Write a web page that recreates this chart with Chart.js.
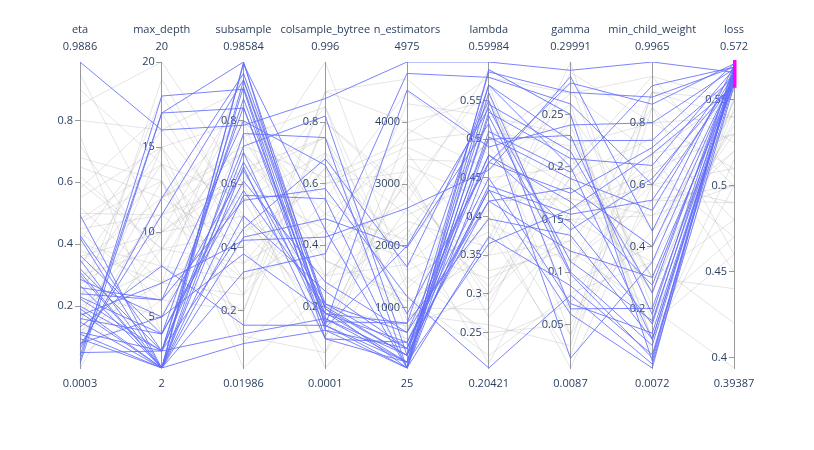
<!DOCTYPE html>
<html>
<head>
<title>Parallel coordinates - xgboost search</title>
<script src="https://cdn.jsdelivr.net/npm/chart.js"></script>
<style>
  body { margin: 0; background: #fff; }
  #chartContainer { width: 814px; height: 450px; }
</style>
</head>
<body>
<div id="chartContainer"><canvas id="myChart"></canvas></div>
<script>
// dimensions (axes), left to right
var dimNames = ['eta', 'max_depth', 'subsample', 'colsample_bytree', 'n_estimators', 'lambda', 'gamma', 'min_child_weight', 'loss'];
var rangeMin = [0.0003, 2, 0.01986, 0.0001, 25, 0.20421, 0.0087, 0.0072, 0.39387];
var rangeMax = [0.9886, 20, 0.98584, 0.996, 4975, 0.59984, 0.29991, 0.9965, 0.572];
var minLabels = ['0.0003', '2', '0.01986', '0.0001', '25', '0.20421', '0.0087', '0.0072', '0.39387'];
var maxLabels = ['0.9886', '20', '0.98584', '0.996', '4975', '0.59984', '0.29991', '0.9965', '0.572'];
var tickValues = [
    [0.2, 0.4, 0.6, 0.8],
    [5, 10, 15, 20],
    [0.2, 0.4, 0.6, 0.8],
    [0.2, 0.4, 0.6, 0.8],
    [1000, 2000, 3000, 4000],
    [0.25, 0.3, 0.35, 0.4, 0.45, 0.5, 0.55],
    [0.05, 0.1, 0.15, 0.2, 0.25],
    [0.2, 0.4, 0.6, 0.8],
    [0.4, 0.45, 0.5, 0.55]
];
// selected range on the loss axis (magenta bar)
var lossConstraint = [0.557, 0.572];

// one value per trial for each dimension
var eta = [0.9886,0.495,0.429,0.42,0.364,0.321,0.30,0.287,0.267,0.24,0.224,0.192,0.17,0.149,0.133,0.116,0.095,0.073,0.063,0.041,0.025,0.014,0.31,0.2,0.16,0.11,0.08,0.26,0.35,0.05,0.18,0.23,
    0.0003,0.9,0.85,0.72,0.65,0.6,0.55,0.5,0.47,0.44,0.41,0.38,0.36,0.34,0.3,0.28,0.25,0.22,0.2,0.18,0.15,0.12,0.1,0.08,0.06,0.04,0.95,0.8,0.75,0.68,0.62,0.58,0.52,0.48,0.45,0.4,0.33,0.27,0.14,0.09];
var maxDepth = [16,2,3,2,4,3,2,5,2,6,3,2,7,2,8,3,2,11,12,17,18,17,2,3,4,2,5,6,2,3,2,4,
    10,14,20,8,12,9,15,11,13,6,16,7,10,12,9,14,5,18,8,11,13,7,15,9,12,6,10,16,4,13,9,17,7,14,11,8,15,10,19,12];
var subsample = [0.786,0.928,0.907,0.985,0.844,0.67,0.655,0.644,0.565,0.549,0.46,0.433,0.423,0.323,0.155,0.128,0.097,0.93,0.95,0.98584,0.9,0.84,0.76,0.72,0.61,0.5,0.38,0.8,0.98,0.87,0.7,0.58,
    0.5,0.3,0.6,0.2,0.8,0.45,0.35,0.7,0.15,0.55,0.9,0.25,0.65,0.4,0.85,0.1,0.75,0.5,0.3,0.6,0.01986,0.55,0.8,0.35,0.7,0.2,0.9,0.45,0.6,0.25,0.75,0.4,0.95,0.55,0.3,0.8,0.12,0.62,0.48,0.72];
var colsample = [0.877,0.161,0.139,0.193,0.123,0.209,0.095,0.177,0.551,0.584,0.681,0.486,0.426,0.372,0.139,0.161,0.123,0.193,0.209,0.139,0.095,0.177,0.75,0.82,0.28,0.25,0.18,0.66,0.45,0.151,0.132,0.2,
    0.3,0.7,0.0001,0.9,0.5,0.2,0.65,0.4,0.8,0.1,0.35,0.55,0.75,0.05,0.6,0.3,0.85,0.15,0.45,0.996,0.25,0.7,0.1,0.5,0.35,0.8,0.2,0.6,0.45,0.9,0.3,0.65,0.15,0.85,0.4,0.55,0.05,0.75,0.25,0.62];
var nEstimators = [4975,230,120,25,340,600,440,750,25,1180,1660,1970,2610,4790,4520,120,25,230,340,25,120,440,25,230,600,340,120,900,25,750,2000,230,
    3000,2500,1500,4000,3500,500,2000,1000,2800,3800,1200,4500,800,2200,3200,1700,600,2600,3900,1400,4300,900,3300,2100,1100,2900,700,3600,1800,4700,2400,400,3100,1300,2700,1900,3400,1600,2300,3700];
var lambda = [0.59984,0.587,0.57,0.535,0.503,0.479,0.434,0.397,0.374,0.20421,0.55,0.52,0.46,0.58,0.49,0.51,0.47,0.44,0.42,0.56,0.53,0.45,0.5,0.545,0.42,0.48,0.365,0.47,0.59,0.57,0.54,0.435,
    0.3,0.45,0.25,0.55,0.35,0.4,0.5,0.28,0.33,0.58,0.22,0.48,0.37,0.52,0.27,0.43,0.56,0.31,0.46,0.39,0.53,0.26,0.42,0.5,0.35,0.57,0.3,0.44,0.24,0.49,0.36,0.55,0.29,0.41,0.59,0.32,0.47,0.38,0.21,0.51];
var gamma = [0.292,0.271,0.225,0.208,0.189,0.167,0.148,0.135,0.087,0.078,0.065,0.018,0.286,0.26,0.24,0.195,0.175,0.155,0.12,0.1,0.098,0.07,0.23,0.215,0.18,0.14,0.16,0.28,0.25,0.2,0.11,0.06,
    0.15,0.2,0.05,0.1,0.25,0.0087,0.18,0.22,0.12,0.27,0.08,0.16,0.29991,0.04,0.14,0.21,0.06,0.19,0.26,0.11,0.23,0.03,0.17,0.28,0.13,0.09,0.2,0.24,0.07,0.15,0.29,0.11,0.19,0.04,0.25,0.13,0.27,0.02,0.16,0.22];
var minChildWeight = [0.9965,0.883,0.743,0.662,0.517,0.275,0.15,0.1,0.05,0.02,0.2,0.35,0.45,0.6,0.8,0.92,0.72,0.55,0.3,0.08,0.04,0.12,0.18,0.25,0.4,0.62,0.7,0.86,0.03,0.1,0.16,0.0072,
    0.5,0.3,0.7,0.9,0.1,0.6,0.4,0.8,0.2,0.95,0.35,0.65,0.15,0.55,0.85,0.25,0.45,0.75,0.05,0.6,0.3,0.9,0.5,0.2,0.7,0.4,0.95,0.1,0.65,0.35,0.8,0.55,0.25,0.9,0.45,0.15,0.7,0.85,0.6,0.3];
var loss = [0.566,0.569,0.571,0.568,0.565,0.563,0.567,0.562,0.56,0.558,0.561,0.564,0.57,0.566,0.568,0.569,0.563,0.561,0.559,0.565,0.567,0.562,0.57,0.568,0.564,0.56,0.558,0.571,0.566,0.563,0.561,0.569,
    0.52,0.48,0.45,0.54,0.5,0.555,0.53,0.51,0.47,0.55,0.42,0.53,0.545,0.5,0.46,0.549,0.52,0.48,0.552,0.51,0.44,0.55,0.5,0.39387,0.53,0.556,0.505,0.515,0.47,0.535,0.54,0.49,0.55,0.525,0.543,0.46,0.553,0.5,0.49,0.538];

var columns = [eta, maxDepth, subsample, colsample, nEstimators, lambda, gamma, minChildWeight, loss];
var textColor = '#2a3f5f';
var axisColor = '#9a9a9a';
var labelShift = 0.085;   // tick labels sit a little left of each axis line

var datasets = [];
for (var i = 0; i < loss.length; i++) {
    var selected = loss[i] >= lossConstraint[0];
    datasets.push({
        data: columns.map(function(col, d) { return (col[i] - rangeMin[d]) / (rangeMax[d] - rangeMin[d]); }),
        borderColor: selected ? 'rgba(99, 110, 250, 0.85)' : 'rgba(150, 150, 150, 0.25)',
        borderWidth: 1,
        pointRadius: 0,
        tension: 0,
        order: selected ? 0 : 1,
        xAxisID: 'x',
        yAxisID: 'yn'
    });
}

var scales = {
    x: {
        type: 'category',
        position: 'top',
        offset: false,
        grid: { display: false, drawTicks: false },
        border: { display: false },
        ticks: {
            autoSkip: false, maxRotation: 0, padding: 6, color: textColor,
            font: { size: 11, family: '"Open Sans", sans-serif', lineHeight: 1.6 },
            callback: function(v, idx) { return [dimNames[idx], maxLabels[idx]]; }
        },
        afterFit: function(s) { s.height = 62; }
    },
    x2: {
        type: 'category',
        position: 'bottom',
        labels: minLabels,
        offset: false,
        grid: { display: false, drawTicks: false },
        border: { display: false },
        ticks: {
            autoSkip: false, maxRotation: 0, padding: 9, color: textColor,
            font: { size: 11, family: '"Open Sans", sans-serif' }
        },
        afterFit: function(s) { s.height = 82; }
    },
    yn: { display: false, min: 0, max: 1 }
};

function setTicks(d) {
    return function(s) { s.ticks = tickValues[d].map(function(v) { return { value: v }; }); };
}

dimNames.forEach(function(name, d) {
    // axis line with tick marks
    scales['y' + d] = {
        axis: 'y', type: 'linear', position: { x: d },
        min: rangeMin[d], max: rangeMax[d], z: 1,
        afterBuildTicks: setTicks(d),
        grid: { drawOnChartArea: false, tickLength: 5, color: axisColor },
        border: { color: axisColor },
        ticks: { display: false }
    };
    // tick labels, left of the axis line
    scales['l' + d] = {
        axis: 'y', type: 'linear', position: { x: d - labelShift },
        min: rangeMin[d], max: rangeMax[d], z: 2,
        afterBuildTicks: setTicks(d),
        grid: { display: false },
        border: { display: false },
        ticks: {
            padding: 0, color: textColor,
            font: { size: 11, family: '"Open Sans", sans-serif' },
            textStrokeColor: 'rgba(255,255,255,0.9)', textStrokeWidth: 3,
            callback: function(v) { return String(v); }
        }
    };
});

var constraintBar = {
    id: 'constraintBar',
    afterDraw: function(chart) {
        var ctx = chart.ctx;
        var s = chart.scales.y8;
        var x = chart.scales.x.getPixelForValue(8);
        var top = s.getPixelForValue(lossConstraint[1]);
        var bot = s.getPixelForValue(lossConstraint[0]);
        ctx.save();
        ctx.fillStyle = '#ff00ff';
        ctx.fillRect(x - 1, top - 2, 3.5, bot - top + 2);
        ctx.restore();
    }
};

new Chart(document.getElementById('myChart').getContext('2d'), {
    type: 'line',
    data: { labels: dimNames, datasets: datasets },
    options: {
        responsive: true,
        maintainAspectRatio: false,
        animation: false,
        layout: { padding: { left: 80, right: 80, top: 0, bottom: 0 } },
        plugins: { legend: { display: false }, tooltip: { enabled: false } },
        scales: scales
    },
    plugins: [constraintBar]
});
</script>
</body>
</html>
